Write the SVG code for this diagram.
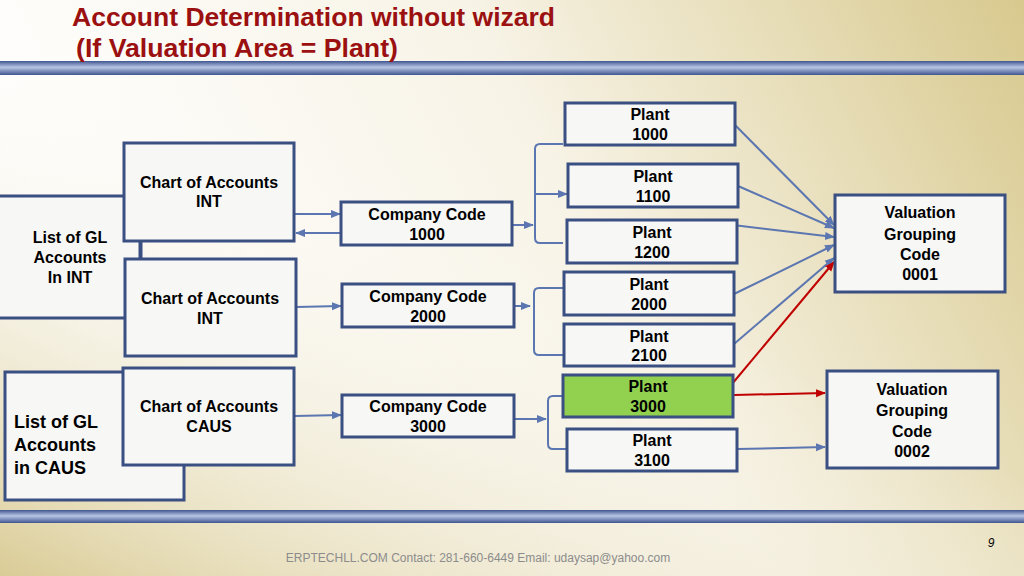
<svg xmlns="http://www.w3.org/2000/svg" width="1024" height="576" viewBox="0 0 1024 576">
<defs>
<linearGradient id="bg" x1="0" y1="0.3" x2="1" y2="0"><stop offset="0" stop-color="#ffffff"/><stop offset="0.5" stop-color="#f7f3e6"/><stop offset="1" stop-color="#d8c98e"/></linearGradient>
<linearGradient id="bg2" x1="0" y1="1" x2="0.5" y2="0.4"><stop offset="0" stop-color="#d6c68a" stop-opacity="0.9"/><stop offset="1" stop-color="#ffffff" stop-opacity="0"/></linearGradient>
<linearGradient id="band" x1="0" y1="0" x2="0" y2="1"><stop offset="0" stop-color="#3f5590"/><stop offset="0.45" stop-color="#b8c6e4"/><stop offset="1" stop-color="#3f5590"/></linearGradient>
<marker id="ab" viewBox="0 0 10 10" refX="9" refY="5" markerWidth="5" markerHeight="5" orient="auto"><path d="M0,1 L10,5 L0,9 z" fill="#5b76b0"/></marker>
<marker id="ar" viewBox="0 0 10 10" refX="9" refY="5" markerWidth="5" markerHeight="5" orient="auto"><path d="M0,1 L10,5 L0,9 z" fill="#c00000"/></marker>
</defs>
<style>
.b{fill:#f7f7f6;stroke:#3a4f82;stroke-width:3}
.t{font-family:"Liberation Sans",Arial,sans-serif;font-weight:bold;font-size:16px;fill:#000;text-anchor:middle}
.c{fill:none;stroke:#5b76b0;stroke-width:2}
.r{fill:none;stroke:#c00000;stroke-width:2}
.h{font-family:"Liberation Sans",Arial,sans-serif;font-weight:bold;font-size:26px;fill:#9b1010}
</style>
<rect width="1024" height="576" fill="url(#bg)"/>
<rect width="1024" height="576" fill="url(#bg2)"/>
<rect x="0" y="61" width="1024" height="14" fill="url(#band)"/>
<rect x="0" y="510" width="1024" height="13" fill="url(#band)"/>
<text class="h" x="72" y="26" textLength="483" lengthAdjust="spacingAndGlyphs">Account Determination without wizard</text>
<text class="h" x="76" y="57" textLength="322" lengthAdjust="spacingAndGlyphs">(If Valuation Area = Plant)</text>

<g id="connectors">
<line class="c" x1="294" y1="214" x2="340" y2="214" marker-end="url(#ab)"/>
<line class="c" x1="341" y1="233" x2="296" y2="233" marker-end="url(#ab)"/>
<line class="c" x1="296" y1="307" x2="341" y2="306" marker-end="url(#ab)"/>
<line class="c" x1="295" y1="416" x2="341" y2="415" marker-end="url(#ab)"/>
<line class="c" x1="512" y1="225" x2="533" y2="225" marker-end="url(#ab)"/>
<path class="c" d="M563,144 H540 Q535,144 535,149 V238 Q535,243 540,243 H563"/>
<line class="c" x1="535" y1="194" x2="567" y2="194" marker-end="url(#ab)"/>
<line class="c" x1="514" y1="306" x2="530" y2="306" marker-end="url(#ab)"/>
<path class="c" d="M563,288 H539 Q534,288 534,293 V350 Q534,355 539,355 H563"/>
<line class="c" x1="514" y1="419" x2="546" y2="419" marker-end="url(#ab)"/>
<path class="c" d="M562,396 H553 Q548,396 548,401 V444 Q548,449 553,449 H566"/>
<line class="c" x1="735" y1="125" x2="834" y2="225" marker-end="url(#ab)"/>
<line class="c" x1="738" y1="186" x2="834" y2="228" marker-end="url(#ab)"/>
<line class="c" x1="733" y1="225" x2="834" y2="237" marker-end="url(#ab)"/>
<line class="c" x1="734" y1="294" x2="834" y2="245" marker-end="url(#ab)"/>
<line class="c" x1="734" y1="344" x2="834" y2="258" marker-end="url(#ab)"/>
<line class="r" x1="732" y1="384" x2="834" y2="262" marker-end="url(#ar)"/>
<line class="r" x1="734" y1="395" x2="825" y2="393" marker-end="url(#ar)"/>
<line class="c" x1="737" y1="449" x2="825" y2="447" marker-end="url(#ab)"/>
</g>

<g id="gl-int"><rect class="b" x="-3" y="196" width="143" height="122"/><text class="t" x="70" y="243">List of GL</text><text class="t" x="70" y="263">Accounts</text><text class="t" x="70" y="283">In INT</text></g>
<g id="chart-int1"><rect class="b" x="124" y="143" width="170" height="98"/><text class="t" x="209" y="188">Chart of Accounts</text><text class="t" x="209" y="207">INT</text></g>
<line x1="141" y1="241" x2="141" y2="259" stroke="#3a4f82" stroke-width="3"/>
<g id="chart-int2"><rect class="b" x="125" y="259" width="171" height="97"/><text class="t" x="210" y="304">Chart of Accounts</text><text class="t" x="210" y="324">INT</text></g>
<g id="gl-caus"><rect class="b" x="5" y="372" width="179" height="128"/><text class="t" x="14" y="428" style="text-anchor:start;font-size:18px">List of GL</text><text class="t" x="14" y="451" style="text-anchor:start;font-size:18px">Accounts</text><text class="t" x="14" y="474" style="text-anchor:start;font-size:18px">in CAUS</text></g>
<g id="chart-caus"><rect class="b" x="123" y="368" width="171" height="97"/><text class="t" x="209" y="412">Chart of Accounts</text><text class="t" x="209" y="432">CAUS</text></g>
<g id="cc1000"><rect class="b" x="341" y="202" width="171" height="43"/><text class="t" x="427" y="220">Company Code</text><text class="t" x="427" y="240">1000</text></g>
<g id="cc2000"><rect class="b" x="342" y="284" width="172" height="43"/><text class="t" x="428" y="302">Company Code</text><text class="t" x="428" y="322">2000</text></g>
<g id="cc3000"><rect class="b" x="342" y="395" width="172" height="42"/><text class="t" x="428" y="412">Company Code</text><text class="t" x="428" y="432">3000</text></g>
<g id="p1000"><rect class="b" x="565" y="103" width="170" height="42"/><text class="t" x="650" y="120">Plant</text><text class="t" x="650" y="140">1000</text></g>
<g id="p1100"><rect class="b" x="568" y="164" width="170" height="43"/><text class="t" x="653" y="182">Plant</text><text class="t" x="653" y="202">1100</text></g>
<g id="p1200"><rect class="b" x="567" y="220" width="170" height="43"/><text class="t" x="652" y="238">Plant</text><text class="t" x="652" y="258">1200</text></g>
<g id="p2000"><rect class="b" x="564" y="272" width="170" height="43"/><text class="t" x="649" y="290">Plant</text><text class="t" x="649" y="310">2000</text></g>
<g id="p2100"><rect class="b" x="564" y="324" width="170" height="42"/><text class="t" x="649" y="342">Plant</text><text class="t" x="649" y="361">2100</text></g>
<g id="p3000"><rect class="b" x="563" y="375" width="170" height="42" style="fill:#92d050"/><text class="t" x="648" y="392">Plant</text><text class="t" x="648" y="412">3000</text></g>
<g id="p3100"><rect class="b" x="567" y="429" width="170" height="42"/><text class="t" x="652" y="446">Plant</text><text class="t" x="652" y="466">3100</text></g>
<g id="vg1"><rect class="b" x="835" y="195" width="170" height="97"/><text class="t" x="920" y="218">Valuation</text><text class="t" x="920" y="240">Grouping</text><text class="t" x="920" y="260">Code</text><text class="t" x="920" y="280">0001</text></g>
<g id="vg2"><rect class="b" x="827" y="371" width="171" height="97"/><text class="t" x="912" y="395">Valuation</text><text class="t" x="912" y="416">Grouping</text><text class="t" x="912" y="437">Code</text><text class="t" x="912" y="457">0002</text></g>
<text x="478" y="562" font-family="Liberation Sans,Arial,sans-serif" font-size="12" fill="#8c8c8c" text-anchor="middle">ERPTECHLL.COM Contact: 281-660-6449 Email: udaysap@yahoo.com</text>
<text x="991" y="547" font-family="Liberation Sans,Arial,sans-serif" font-size="12" font-style="italic" fill="#000" text-anchor="middle">9</text>
</svg>
